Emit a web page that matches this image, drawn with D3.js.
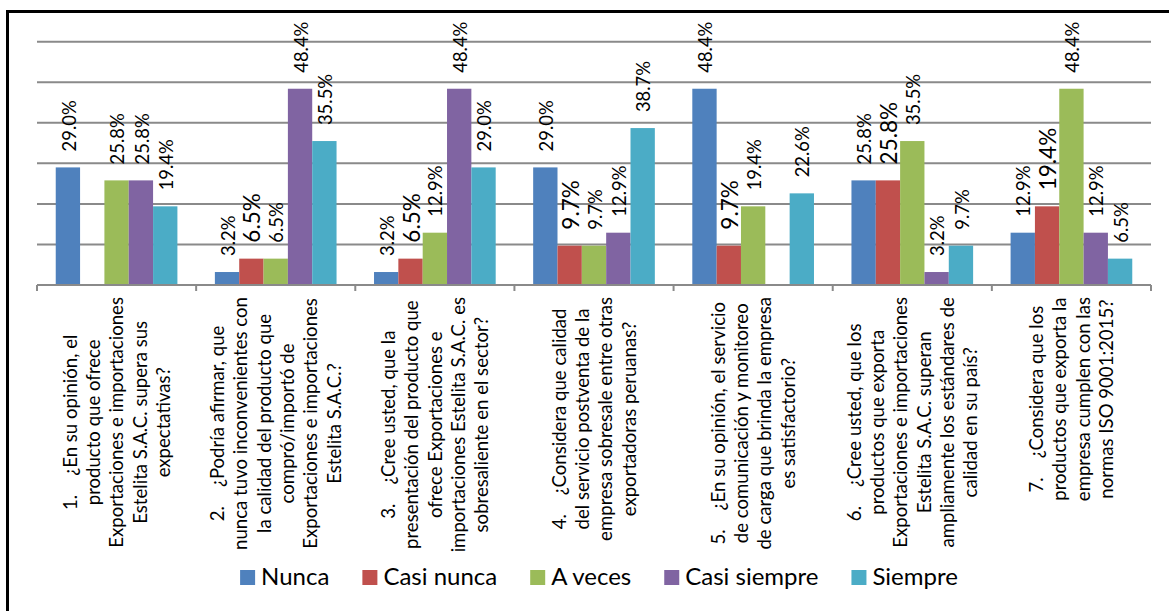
<!DOCTYPE html>
<html lang="es">
<head>
<meta charset="utf-8">
<script src="https://cdn.jsdelivr.net/npm/d3@7/dist/d3.min.js"></script>
<style>
  html, body { margin: 0; padding: 0; background: #fff; }
  svg { display: block; font-family: Lato, "Open Sans", "DejaVu Sans", sans-serif; }
  .cat-label { white-space: pre; }
</style>
</head>
<body>
<svg id="chart" width="1169" height="611"></svg>
<script>
// Survey questions (one array of lines per question, as wrapped on the axis)
const questions = [
  ["1.    ¿En su opinión, el", "producto que ofrece", "Exportaciones e importaciones", "Estelita S.A.C. supera sus", "expectativas?"],
  ["2.    ¿Podría afirmar, que", "nunca tuvo inconvenientes con", "la calidad del producto que", "compró/importó de", "Exportaciones e importaciones", "Estelita S.A.C.?"],
  ["3.    ¿Cree usted, que la", "presentación del producto que", "ofrece Exportaciones e", "importaciones Estelita S.A.C. es", "sobresaliente en el sector?"],
  ["4.    ¿Considera que calidad", "del servicio postventa de la", "empresa sobresale entre otras", "exportadoras peruanas?"],
  ["5.    ¿En su opinión, el servicio", "de comunicación y monitoreo", "de carga que brinda la empresa", "es satisfactorio?"],
  ["6.    ¿Cree usted, que los", "productos que exporta", "Exportaciones e importaciones", "Estelita S.A.C. superan", "ampliamente los estándares de", "calidad en su país?"],
  ["7.    ¿Considera que los", "productos que exporta la", "empresa cumplen con las", "normas ISO 9001:2015?"]
];

// Answer options and their share of responses (%) per question
const seriesNames = ["Nunca", "Casi nunca", "A veces", "Casi siempre", "Siempre"];
const nunca       = [29.0,  3.2,  3.2, 29.0, 48.4, 25.8, 12.9];
const casiNunca   = [ 0.0,  6.5,  6.5,  9.7,  9.7, 25.8, 19.4];
const aVeces      = [25.8,  6.5, 12.9,  9.7, 19.4, 35.5, 48.4];
const casiSiempre = [25.8, 48.4, 48.4, 12.9,  0.0,  3.2, 12.9];
const siempre     = [19.4, 35.5, 29.0, 38.7, 22.6,  9.7,  6.5];
const seriesColors = ["#4F81BD", "#C0504D", "#9BBB59", "#8064A2", "#4BACC6"];
const yTicks = [10, 20, 30, 40, 50, 60];

const seriesValues = [nunca, casiNunca, aVeces, casiSiempre, siempre];
const rows = questions.map((q, i) => ({
  idx: i,
  lines: q,
  values: seriesNames.map((s, k) => ({ series: s, k, value: seriesValues[k][i] }))
}));

const svg = d3.select("#chart");

// Outer chart frame
svg.append("rect")
  .attr("x", 7.5).attr("y", 11.5)
  .attr("width", 1200).attr("height", 700)
  .attr("fill", "none").attr("stroke", "#000").attr("stroke-width", 3);

const plot = { left: 37, right: 1151, top: 41.7, bottom: 285 };

const x0 = d3.scaleBand()
  .domain(rows.map(r => r.idx))
  .range([plot.left, plot.right])
  .paddingInner(0).paddingOuter(0);

const x1 = d3.scaleBand()
  .domain(seriesNames)
  .range([0, x0.bandwidth()])
  .paddingInner(0).paddingOuter(0.77);

const y = d3.scaleLinear().domain([0, 60]).range([plot.bottom, plot.top]);

// Horizontal gridlines
svg.append("g").selectAll("line")
  .data(yTicks)
  .join("line")
  .attr("x1", plot.left).attr("x2", plot.right)
  .attr("y1", d => y(d)).attr("y2", d => y(d))
  .attr("stroke", "#8a8a8a").attr("stroke-width", 2);

// Bars
const groups = svg.append("g").selectAll("g")
  .data(rows)
  .join("g")
  .attr("transform", d => `translate(${x0(d.idx)},0)`);

groups.selectAll("rect")
  .data(d => d.values.filter(v => v.value > 0))
  .join("rect")
  .attr("x", v => x1(v.series))
  .attr("y", v => y(v.value))
  .attr("width", x1.bandwidth())
  .attr("height", v => y(0) - y(v.value))
  .attr("fill", v => seriesColors[v.k]);

// Value labels, rotated, above each bar ("Casi nunca" labels are set larger)
const fmt = d3.format(".1f");
groups.selectAll("text.val")
  .data(d => d.values.filter(v => v.value > 0))
  .join("text")
  .attr("class", "val")
  .attr("transform", v => `translate(${x1(v.series) + x1.bandwidth() / 2 + 1},${y(v.value) - 16}) rotate(-90)`)
  .attr("dy", "0.36em")
  .attr("text-anchor", "start")
  .attr("font-size", v => v.k === 1 ? 22.5 : 18.4)
  .attr("fill", "#000")
  .text(v => fmt(v.value) + "%");

// Category axis with boundary ticks
const axisG = svg.append("g");
axisG.append("line")
  .attr("x1", plot.left).attr("x2", plot.right)
  .attr("y1", y(0)).attr("y2", y(0))
  .attr("stroke", "#8a8a8a").attr("stroke-width", 2);
const bounds = rows.map(r => x0(r.idx)).concat([plot.right]);
axisG.selectAll("line.tick")
  .data(bounds)
  .join("line")
  .attr("class", "tick")
  .attr("x1", d => d).attr("x2", d => d)
  .attr("y1", y(0)).attr("y2", y(0) + 6)
  .attr("stroke", "#8a8a8a").attr("stroke-width", 2);

// Question labels, rotated and centred under each group
const catFont = 18.6, lineH = 23.3;
const catG = svg.append("g");
rows.forEach(r => {
  const cx = x0(r.idx) + x0.bandwidth() / 2;
  const n = r.lines.length;
  const t = catG.append("text")
    .attr("class", "cat-label")
    .attr("font-size", catFont)
    .attr("fill", "#000")
    .attr("text-anchor", "middle");
  r.lines.forEach((ln, i) => {
    t.append("tspan")
      .attr("x", 0)
      .attr("y", (i - (n - 1) / 2) * lineH + 0.36 * catFont)
      .text(ln);
  });
  let maxLen = 0;
  t.selectAll("tspan").each(function () {
    maxLen = Math.max(maxLen, this.getComputedTextLength());
  });
  const cy = y(0) + 12 + maxLen / 2;
  t.attr("transform", `translate(${cx},${cy}) rotate(-90)`);
});

// Legend
const legFont = 24, sw = 15, gapText = 6, gapItem = 33;
const legG = svg.append("g");
const items = seriesNames.map((s, k) => {
  const g = legG.append("g");
  g.append("rect").attr("width", sw).attr("height", sw).attr("y", -sw).attr("fill", seriesColors[k]);
  const tx = g.append("text").attr("x", sw + gapText).attr("y", 0)
    .attr("font-size", legFont).attr("fill", "#000").text(s);
  return { g, w: sw + gapText + tx.node().getComputedTextLength() };
});
const totalW = d3.sum(items, d => d.w) + gapItem * (items.length - 1);
let lx = 599 - totalW / 2;
items.forEach(it => {
  it.g.attr("transform", `translate(${lx},585)`);
  lx += it.w + gapItem;
});
</script>
</body>
</html>
